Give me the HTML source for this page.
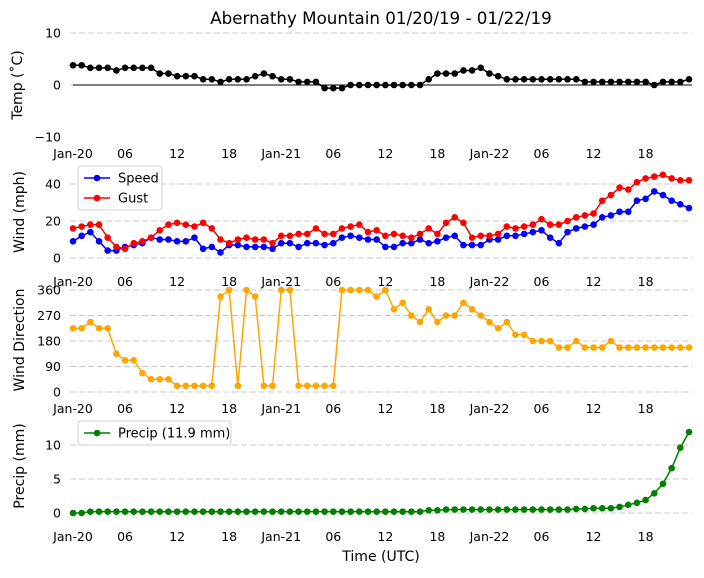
<!DOCTYPE html>
<html><head><meta charset="utf-8"><style>
body{margin:0;background:#fff}
svg{font-family:"DejaVu Sans","Liberation Sans",sans-serif}
</style></head><body>
<svg id="c" width="704" height="573" viewBox="0 0 704 573"></svg>
<script>
const tickLabels=["Jan-20","06","12","18","Jan-21","06","12","18","Jan-22","06","12","18"];
const temp=[3.8,3.8,3.3,3.3,3.3,2.8,3.3,3.3,3.3,3.3,2.2,2.2,1.7,1.7,1.7,1.1,1.1,0.6,1.1,1.1,1.1,1.7,2.2,1.7,1.1,1.1,0.6,0.6,0.6,-0.6,-0.6,-0.6,0,0,0,0,0,0,0,0,0,1.1,2.2,2.2,2.2,2.8,2.8,3.3,2.2,1.7,1.1,1.1,1.1,1.1,1.1,1.1,1.1,1.1,1.1,0.6,0.6,0.6,0.6,0.6,0.6,0.6,0.6,0,0.6,0.6,0.6,1.1];
const speed=[9,12,14,9,4,4,6,7,8,11,10,10,9,9,11,5,6,3,7,7,6,6,6,5,8,8,6,8,8,7,8,11,12,11,10,10,6,6,8,8,10,8,9,11,12,7,7,7,10,10,12,12,13,14,15,11,8,14,16,17,18,22,23,25,25,31,32,36,34,31,29,27];
const gust=[16,17,18,18,11,6,5,8,9,11,15,18,19,18,17,19,16,10,8,10,11,10,10,8,12,12,13,13,16,13,13,16,17,18,14,15,12,13,12,11,13,16,13,19,22,19,11,12,12,13,17,16,17,18,21,18,18,20,22,23,24,31,34,38,37,41,43,44,45,43,42,42];
const dir=[225,225,247,225,225,135,112,112,67,45,45,45,22,22,22,22,22,337,360,22,360,337,22,22,360,360,22,22,22,22,22,360,360,360,360,337,360,292,315,270,247,292,247,270,270,315,292,270,247,225,247,202,202,180,180,180,157,157,180,157,157,157,180,157,157,157,157,157,157,157,157,157];
const precip=[0,0,0.2,0.2,0.2,0.2,0.2,0.2,0.2,0.2,0.2,0.2,0.2,0.2,0.2,0.2,0.2,0.2,0.2,0.2,0.2,0.2,0.2,0.2,0.2,0.2,0.2,0.2,0.2,0.2,0.2,0.2,0.2,0.2,0.2,0.2,0.2,0.2,0.2,0.2,0.2,0.4,0.4,0.5,0.5,0.5,0.5,0.5,0.5,0.5,0.5,0.5,0.5,0.5,0.5,0.5,0.5,0.5,0.6,0.6,0.7,0.7,0.7,0.9,1.2,1.5,1.9,2.9,4.3,6.6,9.6,11.9];
const NS="http://www.w3.org/2000/svg";
const svg=document.getElementById('c');
function el(t,a,p){const e=document.createElementNS(NS,t);for(const k in a)e.setAttribute(k,a[k]);(p||svg).appendChild(e);return e;}
const X=h=>73+h*8.676;
function txt(x,y,s,size,anchor,rot){const t=el('text',{x:x,y:y,'font-size':size,'text-anchor':anchor||'middle',fill:'#000'});if(rot)t.setAttribute('transform','rotate(-90 '+x+' '+y+')');t.textContent=s;return t;}
const panels=[
 {name:'temp',y0:85,ppu:5.2,ticks:[10,0,-10],label:'Temp (˚C)',lx:22,ly:85,xl:158},
 {name:'wind',y0:258,ppu:1.85,ticks:[0,20,40],label:'Wind (mph)',lx:24,ly:212,xl:286},
 {name:'direction',y0:392,ppu:102/360,ticks:[0,90,180,270,360],label:'Wind Direction',lx:24,ly:340,xl:413},
 {name:'precip',y0:513,ppu:6.8,ticks:[0,5,10],label:'Precip (mm)',lx:24,ly:466,xl:541}];
const Y={};
panels.forEach(p=>{
 const g=el('g',{});
 
 
 const yf=v=>p.y0-v*p.ppu; Y[p.name]=yf;
 p.ticks.forEach(v=>{
  if(!(p.name==='temp'&&v<0)){const l=el('line',{x1:70,x2:692,y1:yf(v),y2:yf(v),stroke:'#c8c8c8','stroke-dasharray':'6,3','stroke-width':1},g);}
  const t=txt(61,yf(v)+4.5,String(v).replace('-','\u2212'),12.5,'end');g.appendChild(t);
 });
 if(p.name==='temp'){const l=el('line',{x1:73,x2:692,y1:yf(0),y2:yf(0),stroke:'#000','stroke-width':1},g);}
 tickLabels.forEach((s,i)=>{const t=txt(X(i*6),p.xl,s,12.5);g.appendChild(t);});
 const yl=txt(p.lx,p.ly,p.label,14,'middle',true);g.appendChild(yl);
});
function series(arr,yf,color,name){
 const g=el('g',{});
 
 
 el('polyline',{points:arr.map((v,i)=>X(i)+','+yf(v)).join(' '),fill:'none',stroke:color,'stroke-width':1.5},g);
 arr.forEach((v,i)=>{const c=el('circle',{cx:X(i),cy:yf(v),r:3.3,fill:color},g);});
}
series(temp,Y.temp,'#000','temp');
series(speed,Y.wind,'#0000ff','speed');
series(gust,Y.wind,'#ff0000','gust');
series(dir,Y.direction,'#ffa500','direction');
series(precip,Y.precip,'#008000','precip');
function legend(x,y,w,items,name){
 const g=el('g',{});
 
 
 el('rect',{x:x,y:y,width:w,height:items.length*20+4,rx:3,fill:'#fff',stroke:'#d0d0d0'},g);
 items.forEach((it,i)=>{const cy=y+12+i*20;
  el('line',{x1:x+6,x2:x+32,y1:cy,y2:cy,stroke:it[1],'stroke-width':1.5},g);
  el('circle',{cx:x+19,cy:cy,r:3.3,fill:it[1]},g);
  const t=txt(x+40,cy+4.5,it[0],13,'start');g.appendChild(t);});
}
legend(78,166,84,[['Speed','#0000ff'],['Gust','#ff0000']],'wind-legend');
legend(78,421,153,[['Precip (11.9 mm)','#008000']],'precip-legend');
const tt=txt(381,24,'Abernathy Mountain 01/20/19 - 01/22/19',16.7);
const xt=txt(381,561,'Time (UTC)',14);
</script>
</body></html>
